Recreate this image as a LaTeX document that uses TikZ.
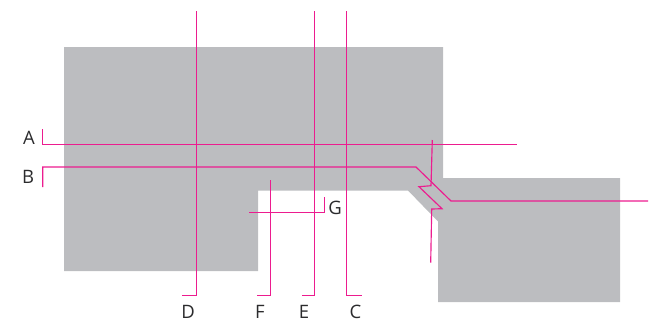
\documentclass[tikz,border=0pt]{standalone}
\usepackage{fontspec}
\setmainfont{Open Sans}
\definecolor{sectiongray}{HTML}{BCBDC0}
\definecolor{cutpink}{HTML}{EC1C8F}
\definecolor{lettergray}{HTML}{2B2B2D}
\begin{document}
\begin{tikzpicture}
[x=1pt, y=-1pt,
part/.style ={fill=sectiongray, draw=none},
cut/.style ={draw=cutpink, line width=1.15pt, line join=miter},
letter/.style ={text=lettergray, font=\fontsize{18.5}{18}\selectfont, inner sep=0pt},
]
\useasboundingbox (0,0) rectangle (655,325);

% section
\fill [part] (64,47) -- (443,47) -- (443,178) -- (620,178) -- (620,302) -- (438,302)
 -- (438,221.5) -- (408,190.5) -- (258,190.5) -- (258,271) -- (64,271) -- cycle;

% horizontal cuts
\draw [cut] (42.7,129) -- (42.7,144.6) -- (517,144.6);
\draw [cut] (42.7,187) -- (42.7,167) -- (416,167) -- (451,201) -- (648,201);
\draw [cut] (249,212.7) -- (324.7,212.7) -- (324.7,196.7);

% vertical cuts
\draw [cut] (196.6,11) -- (196.6,295.6) -- (182,295.6);
\draw [cut] (314.3,11) -- (314.3,295.6) -- (301.5,295.6);
\draw [cut] (346.9,11) -- (346.9,295.6) -- (362.3,295.6);
\draw [cut] (270.5,180) -- (270.5,295.6) -- (257,295.6);

% stepped cut
\draw [cut] (432.3,140) -- (431,185.7) -- (419,186.7) -- (442,208.7) -- (431.7,209) -- (430.7,262.7);

% letters
\node [letter] (la) at (29,138) {A};
\node [letter] (lb) at (28,177) {B};
\node [letter] (ld) at (188,312) {D};
\node [letter] (lf) at (260,312) {F};
\node [letter] (le) at (304,312) {E};
\node [letter] (lc) at (355.5,312) {C};
\node [letter] (lg) at (335,207.5) {G};
\end{tikzpicture}
\end{document}
